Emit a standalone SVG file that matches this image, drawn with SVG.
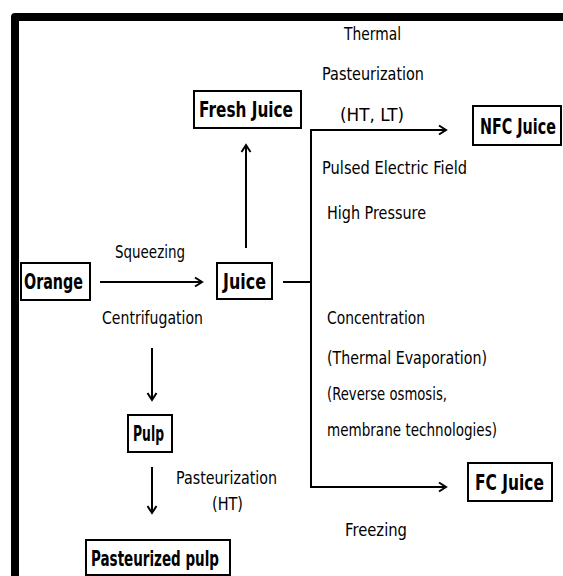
<svg xmlns="http://www.w3.org/2000/svg" width="563" height="576" viewBox="0 0 563 576">
  <style>
    .box { fill: #fff; stroke: #000; stroke-width: 2; }
    .lbl { font-family: "DejaVu Sans", "Liberation Sans", sans-serif; font-size: 18px; fill: #000; }
    .bl { font-family: "DejaVu Sans", "Liberation Sans", sans-serif; font-size: 22px; font-weight: bold; fill: #000; }
    .con { fill: none; stroke: #000; stroke-width: 2; }
  </style>
  <defs>
    <marker id="arr" markerUnits="userSpaceOnUse" markerWidth="12" markerHeight="12" refX="9" refY="6" orient="auto">
      <path d="M2,1.5 L9,6 L2,10.5" fill="none" stroke="#000" stroke-width="2" stroke-linejoin="miter"/>
    </marker>
  </defs>
  <rect width="563" height="576" fill="#fff"/>
  <path d="M15,576 V17 H563" fill="none" stroke="#000" stroke-width="8" stroke-linejoin="round"/>

  <g id="connectors">
    <path class="con" d="M100,282 H202" marker-end="url(#arr)"/>
    <path class="con" d="M246,248 V145" marker-end="url(#arr)"/>
    <path class="con" d="M283,282 H311"/>
    <path class="con" d="M311,282 V130 H446" marker-end="url(#arr)"/>
    <path class="con" d="M311,282 V487 H446" marker-end="url(#arr)"/>
    <path class="con" d="M152,348 V400" marker-end="url(#arr)"/>
    <path class="con" d="M152,467 V513" marker-end="url(#arr)"/>
  </g>

  <g id="labels">
    <text class="lbl" x="344" y="40" textLength="57" lengthAdjust="spacingAndGlyphs">Thermal</text>
    <text class="lbl" x="322" y="80" textLength="102" lengthAdjust="spacingAndGlyphs">Pasteurization</text>
    <text class="lbl" x="340" y="121" textLength="64" lengthAdjust="spacingAndGlyphs">(HT, LT)</text>
    <text class="lbl" x="322" y="174" textLength="145" lengthAdjust="spacingAndGlyphs">Pulsed Electric Field</text>
    <text class="lbl" x="327" y="219" textLength="99" lengthAdjust="spacingAndGlyphs">High Pressure</text>
    <text class="lbl" x="115" y="258" textLength="70" lengthAdjust="spacingAndGlyphs">Squeezing</text>
    <text class="lbl" x="102" y="324" textLength="101" lengthAdjust="spacingAndGlyphs">Centrifugation</text>
    <text class="lbl" x="327" y="324" textLength="98" lengthAdjust="spacingAndGlyphs">Concentration</text>
    <text class="lbl" x="327" y="364" textLength="160" lengthAdjust="spacingAndGlyphs">(Thermal Evaporation)</text>
    <text class="lbl" x="327" y="400" textLength="120" lengthAdjust="spacingAndGlyphs">(Reverse osmosis,</text>
    <text class="lbl" x="327" y="436" textLength="170" lengthAdjust="spacingAndGlyphs">membrane technologies)</text>
    <text class="lbl" x="176" y="484" textLength="101" lengthAdjust="spacingAndGlyphs">Pasteurization</text>
    <text class="lbl" x="212" y="510" textLength="31" lengthAdjust="spacingAndGlyphs">(HT)</text>
    <text class="lbl" x="345" y="536" textLength="62" lengthAdjust="spacingAndGlyphs">Freezing</text>
  </g>

  <g id="fresh-juice">
    <rect class="box" x="194" y="91" width="107" height="37"/>
    <text class="bl" x="199" y="117" textLength="94" lengthAdjust="spacingAndGlyphs">Fresh Juice</text>
  </g>
  <g id="nfc-juice">
    <rect class="box" x="473" y="106" width="88" height="39"/>
    <text class="bl" transform="translate(480,134) scale(0.7,1)" x="0" y="0" textLength="108.5" lengthAdjust="spacingAndGlyphs">NFC Juice</text>
  </g>
  <g id="orange">
    <rect class="box" x="21" y="263" width="69" height="37"/>
    <text class="bl" x="24" y="289" textLength="59" lengthAdjust="spacingAndGlyphs">Orange</text>
  </g>
  <g id="juice">
    <rect class="box" x="217" y="263" width="55" height="36"/>
    <text class="bl" x="223" y="289" textLength="43" lengthAdjust="spacingAndGlyphs">Juice</text>
  </g>
  <g id="fc-juice">
    <rect class="box" x="468" y="463" width="84" height="38"/>
    <text class="bl" transform="translate(475,490) scale(0.7,1)" x="0" y="0" textLength="98.5" lengthAdjust="spacingAndGlyphs">FC Juice</text>
  </g>
  <g id="pulp">
    <rect class="box" x="128" y="415" width="44" height="37"/>
    <text class="bl" x="133" y="441" textLength="31" lengthAdjust="spacingAndGlyphs">Pulp</text>
  </g>
  <g id="pasteurized-pulp">
    <rect class="box" x="86" y="540" width="144" height="35"/>
    <text class="bl" x="91" y="566" textLength="128" lengthAdjust="spacingAndGlyphs">Pasteurized pulp</text>
  </g>
</svg>
